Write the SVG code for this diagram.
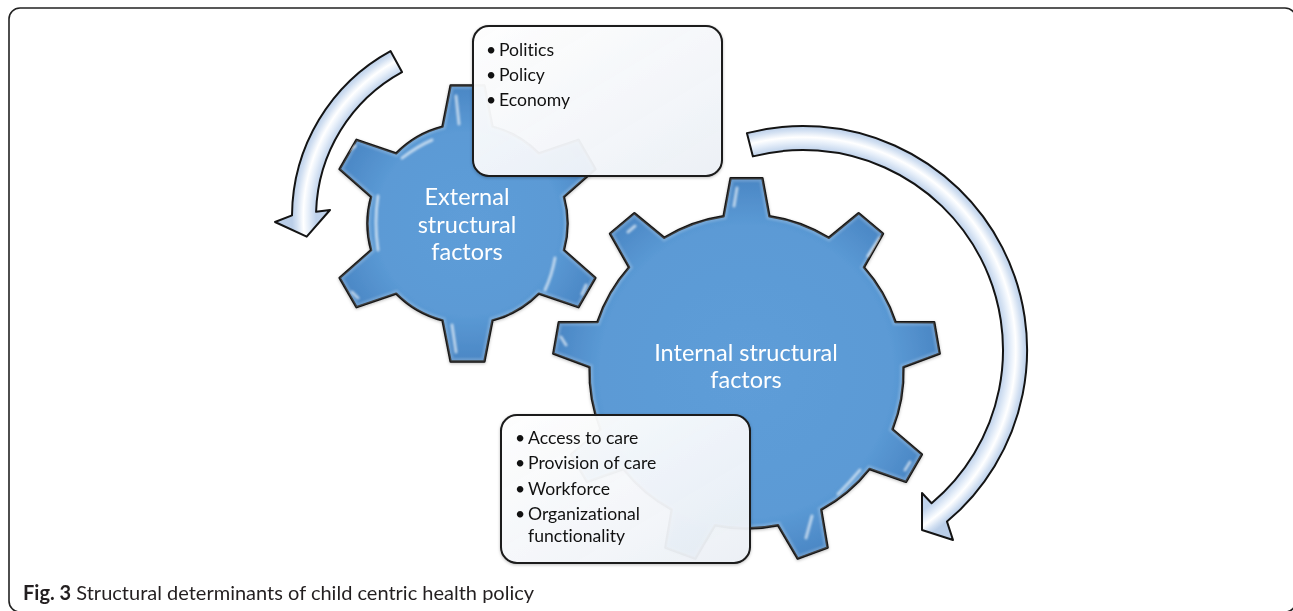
<svg xmlns="http://www.w3.org/2000/svg" width="1293" height="611" viewBox="0 0 1293 611">
  <style>
    text { font-variant-ligatures: none; font-feature-settings: "liga" 0, "clig" 0; }
    .gear { stroke: #141414; stroke-width: 2.4; stroke-linejoin: round; }
    .arrow { stroke: #141414; stroke-width: 2; stroke-linejoin: round; }
    .box { fill: url(#boxFill); stroke: #1a1a1a; stroke-width: 2; }
    .gtxt { font-family: Lato, "Open Sans", sans-serif; font-size: 23.5px; fill: #ffffff; text-anchor: middle; }
    .btxt { font-family: Lato, "Open Sans", sans-serif; font-size: 17.6px; fill: #111111; }
    .cap { font-family: Lato, "Open Sans", sans-serif; font-size: 20px; fill: #231f20; }
    .hl { fill: none; stroke: #ffffff; stroke-width: 3; stroke-linecap: round; opacity: 0.6; }
  </style>
  <defs>
    <radialGradient id="gearFillS" gradientUnits="userSpaceOnUse" cx="467.5" cy="223.5" r="140">
      <stop offset="0" stop-color="#5e9dd8"/>
      <stop offset="0.65" stop-color="#5b9ad5"/>
      <stop offset="1" stop-color="#4a86c4"/>
    </radialGradient>
    <radialGradient id="gearFillL" gradientUnits="userSpaceOnUse" cx="746.5" cy="371.5" r="195">
      <stop offset="0" stop-color="#5e9dd8"/>
      <stop offset="0.75" stop-color="#5b9ad5"/>
      <stop offset="1" stop-color="#4a86c4"/>
    </radialGradient>
    <radialGradient id="arrowL" gradientUnits="userSpaceOnUse" cx="481" cy="217" r="189">
      <stop offset="0" stop-color="#bdd0ea"/>
      <stop offset="0.873" stop-color="#bfd2eb"/>
      <stop offset="0.915" stop-color="#e8f0fa"/>
      <stop offset="0.94" stop-color="#ffffff"/>
      <stop offset="0.975" stop-color="#d2e0f2"/>
      <stop offset="1" stop-color="#bacee8"/>
    </radialGradient>
    <radialGradient id="arrowR" gradientUnits="userSpaceOnUse" cx="803" cy="350" r="224">
      <stop offset="0" stop-color="#bdd0ea"/>
      <stop offset="0.893" stop-color="#bfd2eb"/>
      <stop offset="0.93" stop-color="#e8f0fa"/>
      <stop offset="0.95" stop-color="#ffffff"/>
      <stop offset="0.98" stop-color="#d2e0f2"/>
      <stop offset="1" stop-color="#bacee8"/>
    </radialGradient>
    <linearGradient id="boxFill" x1="0" y1="0" x2="1" y2="1">
      <stop offset="0" stop-color="#ffffff" stop-opacity="0.96"/>
      <stop offset="1" stop-color="#edf1f7" stop-opacity="0.94"/>
    </linearGradient>
    <filter id="soft" x="-10%" y="-10%" width="120%" height="120%">
      <feGaussianBlur stdDeviation="1.2"/>
    </filter>
    <filter id="shadow" x="-10%" y="-10%" width="120%" height="120%">
      <feDropShadow dx="0" dy="1" stdDeviation="1.5" flood-color="#000000" flood-opacity="0.25"/>
    </filter>
    <path id="smallGearPath" d="M442.5,126.7 L450.6,85.5 L484.4,85.5 L492.5,126.7 A100,100 0 0 1 538.8,153.4 L578.5,139.8 L595.4,169.2 L563.9,196.8 A100,100 0 0 1 563.9,250.2 L595.4,277.8 L578.5,307.2 L538.8,293.6 A100,100 0 0 1 492.5,320.3 L484.4,361.5 L450.6,361.5 L442.5,320.3 A100,100 0 0 1 396.2,293.6 L356.5,307.2 L339.6,277.8 L371.1,250.2 A100,100 0 0 1 371.1,196.8 L339.6,169.2 L356.5,139.8 L396.2,153.4 A100,100 0 0 1 442.5,126.7 Z"/>
    <path id="largeGearPath" d="M723.6,216.2 L730.6,178.2 L762.4,178.2 L769.4,216.2 A157,157 0 0 1 828.8,237.8 L858.6,213.2 L883.0,233.6 L863.9,267.3 A157,157 0 0 1 895.5,322.0 L934.2,322.3 L939.7,353.6 L903.4,367.1 A157,157 0 0 1 892.5,429.3 L921.9,454.4 L906.0,481.9 L869.5,469.0 A157,157 0 0 1 821.2,509.6 L827.6,547.7 L797.7,558.6 L778.1,525.3 A157,157 0 0 1 714.9,525.3 L695.3,558.6 L665.4,547.7 L671.8,509.6 A157,157 0 0 1 623.5,469.0 L587.0,481.9 L571.1,454.4 L600.5,429.3 A157,157 0 0 1 589.6,367.1 L553.3,353.6 L558.8,322.3 L597.5,322.0 A157,157 0 0 1 629.1,267.3 L610.0,233.6 L634.4,213.2 L664.2,237.8 A157,157 0 0 1 723.6,216.2 Z"/>
    <clipPath id="clipS"><use href="#smallGearPath"/></clipPath>
    <clipPath id="clipL"><use href="#largeGearPath"/></clipPath>
  </defs>

  <rect x="0" y="0" width="1293" height="611" fill="#ffffff"/>
  <rect x="9" y="8" width="1287" height="604" rx="11" fill="none" stroke="#222222" stroke-width="1.6"/>

  <g id="gear-external">
    <use href="#smallGearPath" fill="url(#gearFillS)" class="gear" filter="url(#shadow)"/>
    <g clip-path="url(#clipS)">
      <use href="#smallGearPath" fill="none" stroke="#ffffff" stroke-width="7" opacity="0.18" filter="url(#soft)"/>
      <g filter="url(#soft)">
        <path class="hl" d="M456,96 L459,124"/>
        <path class="hl" d="M349,150 L355,146"/>
        <path class="hl" d="M378,196 Q374,222 378,250"/>
        <path class="hl" d="M352,292 L358,298"/>
        <path class="hl" d="M452,325 L456,352"/>
        <path class="hl" d="M586,285 L582,294"/>
        <path class="hl" d="M402,158 Q418,146 432,140"/>
        <path class="hl" d="M555,258 Q552,275 545,290"/>
      </g>
    </g>
    <text class="gtxt" x="467" y="205">External</text>
    <text class="gtxt" x="467" y="233">structural</text>
    <text class="gtxt" x="467" y="260">factors</text>
  </g>

  <g id="gear-internal">
    <use href="#largeGearPath" fill="url(#gearFillL)" class="gear" filter="url(#shadow)"/>
    <g clip-path="url(#clipL)">
      <use href="#largeGearPath" fill="none" stroke="#ffffff" stroke-width="7" opacity="0.18" filter="url(#soft)"/>
      <g filter="url(#soft)">
        <path class="hl" d="M737,188 L734,206"/>
        <path class="hl" d="M880,238 L868,256"/>
        <path class="hl" d="M612,270 Q600,290 596,318"/>
        <path class="hl" d="M561,337 L566,345"/>
        <path class="hl" d="M913,372 Q914,400 908,420"/>
        <path class="hl" d="M910,462 L905,470"/>
        <path class="hl" d="M812,516 L806,538"/>
        <path class="hl" d="M860,470 Q850,482 838,494"/>
        <path class="hl" d="M635,226 L628,232"/>
      </g>
    </g>
    <text class="gtxt" x="746" y="361">Internal structural</text>
    <text class="gtxt" x="746" y="388">factors</text>
  </g>

  <g id="connectors">
    <path id="arrow-left" class="arrow" fill="url(#arrowL)" d="M390.5,51.1 A189,189 0 0 0 292,215.4 L275,222 L306.7,236.7 L330,210 L316.1,211.8 A165,165 0 0 1 402,72.1 Z"/>
    <path id="arrow-right" class="arrow" fill="url(#arrowR)" d="M746.9,133.1 A224,224 0 0 1 947,521.6 L953,540 L922,530 L922,493 L931.6,503.2 A200,200 0 0 0 752.9,156.4 Z"/>
  </g>

  <g id="box-external">
    <rect class="box" x="473" y="26" width="249" height="150" rx="16" filter="url(#shadow)"/>
    <text class="btxt" y="56"><tspan x="486">•</tspan><tspan x="499">Politics</tspan></text>
    <text class="btxt" y="81"><tspan x="486">•</tspan><tspan x="499">Policy</tspan></text>
    <text class="btxt" y="106"><tspan x="486">•</tspan><tspan x="499">Economy</tspan></text>
  </g>

  <g id="box-internal">
    <rect class="box" x="501" y="415" width="249" height="148" rx="16" filter="url(#shadow)"/>
    <text class="btxt" y="444"><tspan x="515">•</tspan><tspan x="528">Access to care</tspan></text>
    <text class="btxt" y="469"><tspan x="515">•</tspan><tspan x="528">Provision of care</tspan></text>
    <text class="btxt" y="495"><tspan x="515">•</tspan><tspan x="528">Workforce</tspan></text>
    <text class="btxt" y="520"><tspan x="515">•</tspan><tspan x="528">Organizational</tspan></text>
    <text class="btxt" y="542" x="528">functionality</text>
  </g>

  <text class="cap" x="23" y="600"><tspan font-weight="bold">Fig. 3</tspan> Structural determinants of child centric health policy</text>
</svg>
